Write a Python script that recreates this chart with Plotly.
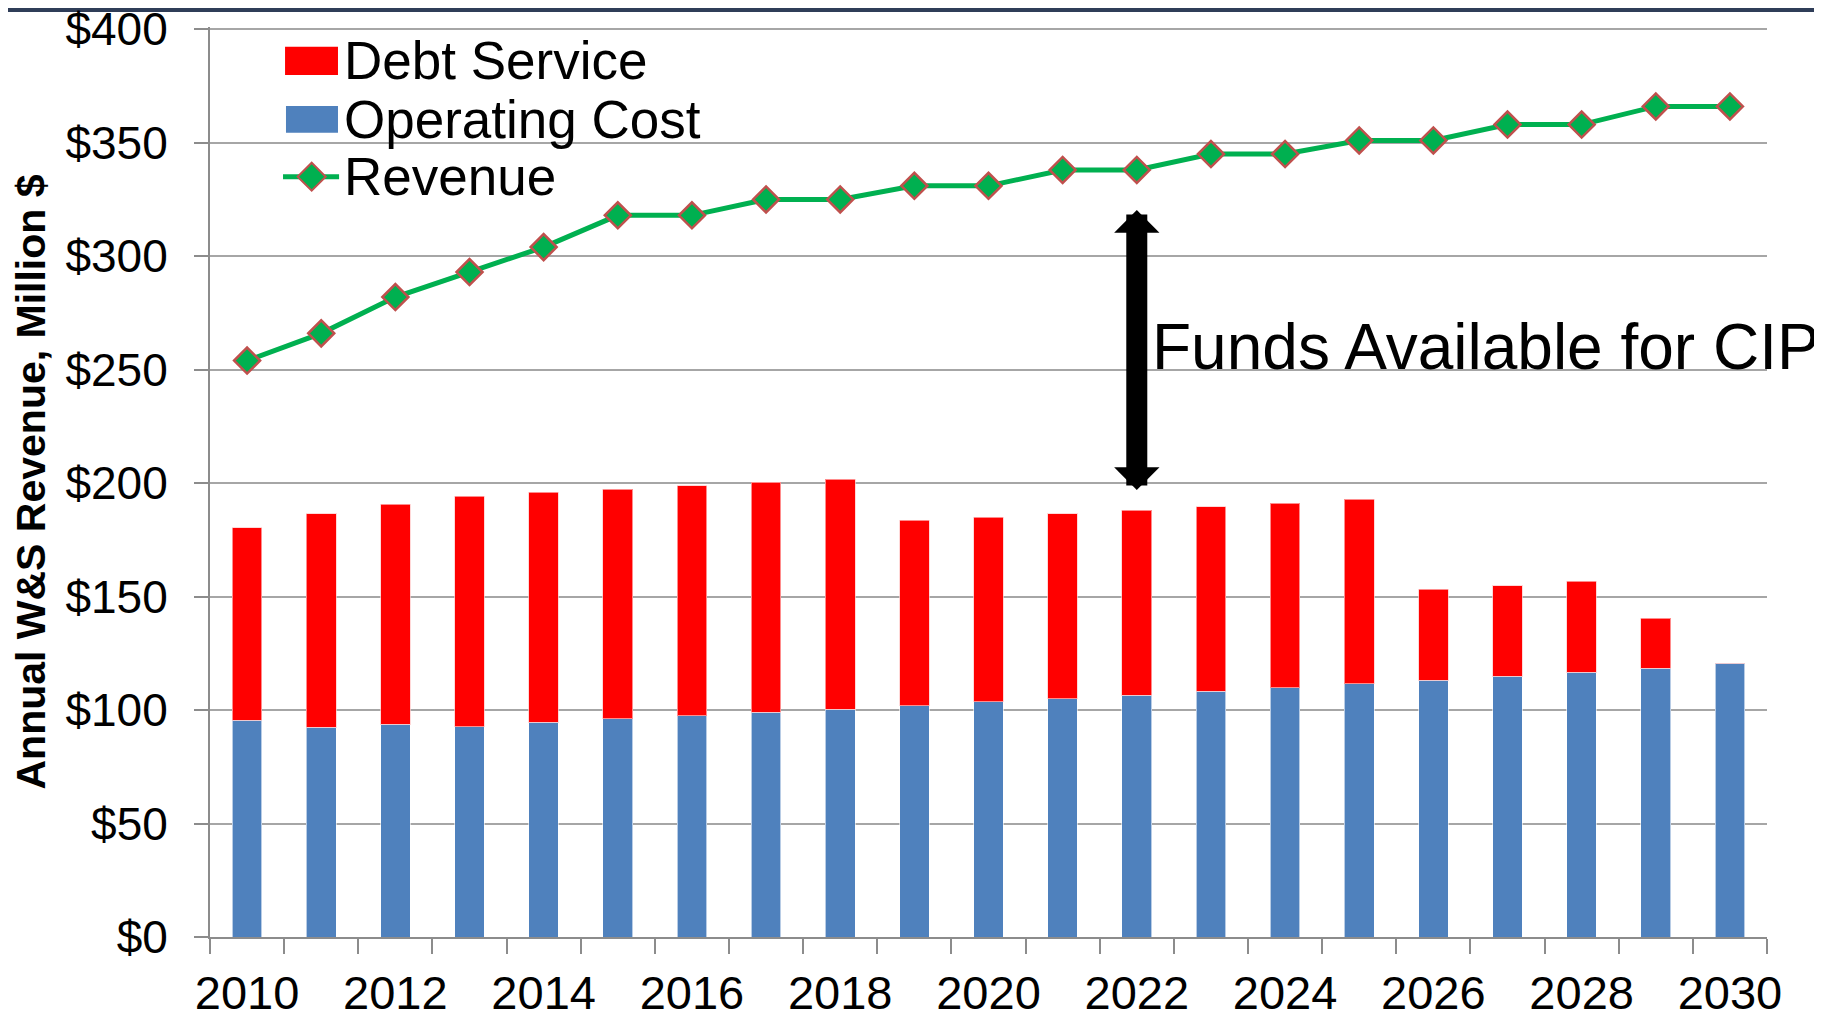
import plotly.graph_objects as go

years = [2010, 2011, 2012, 2013, 2014, 2015, 2016, 2017, 2018, 2019, 2020,
         2021, 2022, 2023, 2024, 2025, 2026, 2027, 2028, 2029, 2030]
operating_cost = [95.6, 92.5, 93.7, 92.6, 94.7, 96.2, 97.5, 99.1, 100.4, 102.0, 103.7,
                  105.0, 106.6, 108.4, 109.8, 111.6, 113.2, 115.0, 116.7, 118.5, 120.7]
debt_service = [84.7, 94.1, 97.0, 101.7, 101.3, 101.2, 101.3, 101.3, 101.4, 81.6, 81.3,
                81.6, 81.5, 81.3, 81.4, 81.3, 40.0, 39.8, 40.0, 21.9, 0.0]
revenue = [254, 266, 282, 293, 304, 318, 318, 325, 325, 331, 331,
           338, 338, 345, 345, 351, 351, 358, 358, 366, 366]
y_ticks = [0, 50, 100, 150, 200, 250, 300, 350, 400]
y_labels = ["$" + str(v) for v in y_ticks]

# funds gap arrow (year, low, high) and its label
gap_year = 2022
gap_low, gap_high = 197, 321
gap_label = "Funds Available for CIP"

FONT = "Liberation Sans, Arial, sans-serif"
RED = "#FF0000"
BLUE = "#4F81BD"
GREEN = "#00B050"
MARKER_EDGE = "#C0504D"
GRID = "#A6A6A6"

fig = go.Figure()
fig.add_bar(x=years, y=operating_cost, name="Operating Cost", width=0.4,
            marker=dict(color=BLUE, line=dict(color="rgba(255,255,255,0.6)", width=1)))
fig.add_bar(x=years, y=debt_service, name="Debt Service", width=0.4,
            marker=dict(color=RED, line=dict(color="rgba(255,200,200,0.7)", width=1)))
fig.add_scatter(x=years, y=revenue, name="Revenue", mode="lines+markers",
                line=dict(color=GREEN, width=5),
                marker=dict(symbol="diamond", size=20, color=GREEN,
                            line=dict(color=MARKER_EDGE, width=2.5)))

# arrow between costs and revenue
fig.add_annotation(x=gap_year, y=gap_low, ax=gap_year, ay=gap_high,
                   xref="x", yref="y", axref="x", ayref="y", text="",
                   showarrow=True, arrowside="end+start",
                   arrowhead=1, startarrowhead=1, arrowsize=0.36, startarrowsize=0.36,
                   arrowwidth=21, arrowcolor="black")
fig.add_annotation(x=2022.18, y=260, xref="x", yref="y", text=gap_label,
                   showarrow=False, xanchor="left", yanchor="middle",
                   font=dict(family=FONT, size=64, color="black"))

# hand-made legend, big swatches like the original
legend_font = dict(family=FONT, size=53, color="black")
fig.add_shape(type="rect", xref="paper", yref="paper", x0=0.0482, x1=0.0822,
              y0=0.9473, y1=0.9784, fillcolor=RED, line=dict(width=0))
fig.add_shape(type="rect", xref="paper", yref="paper", x0=0.0488, x1=0.0822,
              y0=0.8838, y1=0.9132, fillcolor=BLUE, line=dict(width=0))
fig.add_shape(type="line", xref="paper", yref="paper", x0=0.0469, x1=0.0829,
              y0=0.8355, y1=0.8355, line=dict(color=GREEN, width=5))
cx, cy, dx, dy = 0.0653, 0.8355, 0.0090, 0.0154
fig.add_shape(type="path", xref="paper", yref="paper",
              path=f"M{cx-dx},{cy} L{cx},{cy+dy} L{cx+dx},{cy} L{cx},{cy-dy} Z",
              fillcolor=GREEN, line=dict(color=MARKER_EDGE, width=2))
for label, ly in [("Debt Service", 0.9637), ("Operating Cost", 0.8989), ("Revenue", 0.8355)]:
    fig.add_annotation(x=0.0845, y=ly, xref="paper", yref="paper", text=label,
                       showarrow=False, xanchor="left", yanchor="middle", font=legend_font)

# dark band at the very top of the slide
fig.add_shape(type="rect", xref="paper", yref="paper", x0=-0.14, x1=1.04,
              y0=1.0165, y1=1.0209, fillcolor="#2F3D58", line=dict(width=0),
              layer="below")

# page body has an 8px margin, so the figure is 8px smaller than the window
fig.update_layout(
    width=1814, height=1009,
    margin=dict(l=202, r=55, t=19, b=80),
    barmode="stack", showlegend=False,
    plot_bgcolor="white", paper_bgcolor="white",
    font=dict(family=FONT, color="black"),
    xaxis=dict(range=[2009.5, 2030.5], tickmode="array", automargin=False,
               tickvals=years[::2], ticks="", showgrid=False, zeroline=False,
               showline=True, linecolor="#8C8C8C", linewidth=2,
               tickfont=dict(size=47), ticklabelstandoff=14, ticklabeloverflow="allow",
               minor=dict(tick0=2009.5, dtick=1, ticks="outside", ticklen=15,
                          tickcolor="#8C8C8C", tickwidth=2, showgrid=False)),
    yaxis=dict(range=[0, 401], tickmode="array", tickvals=y_ticks, ticktext=y_labels,
               showgrid=True, automargin=False, ticklabeloverflow="allow",
               gridcolor=GRID, gridwidth=1.5, zeroline=False,
               showline=True, linecolor="#8C8C8C", linewidth=2,
               ticks="outside", ticklen=14, tickcolor="#8C8C8C", tickwidth=1.5,
               tickfont=dict(size=46), ticklabelstandoff=17,
               title=dict(text="Annual W&S Revenue, Million $", standoff=9,
                          font=dict(size=41, weight="bold"))),
)

fig.write_html("out.html")
